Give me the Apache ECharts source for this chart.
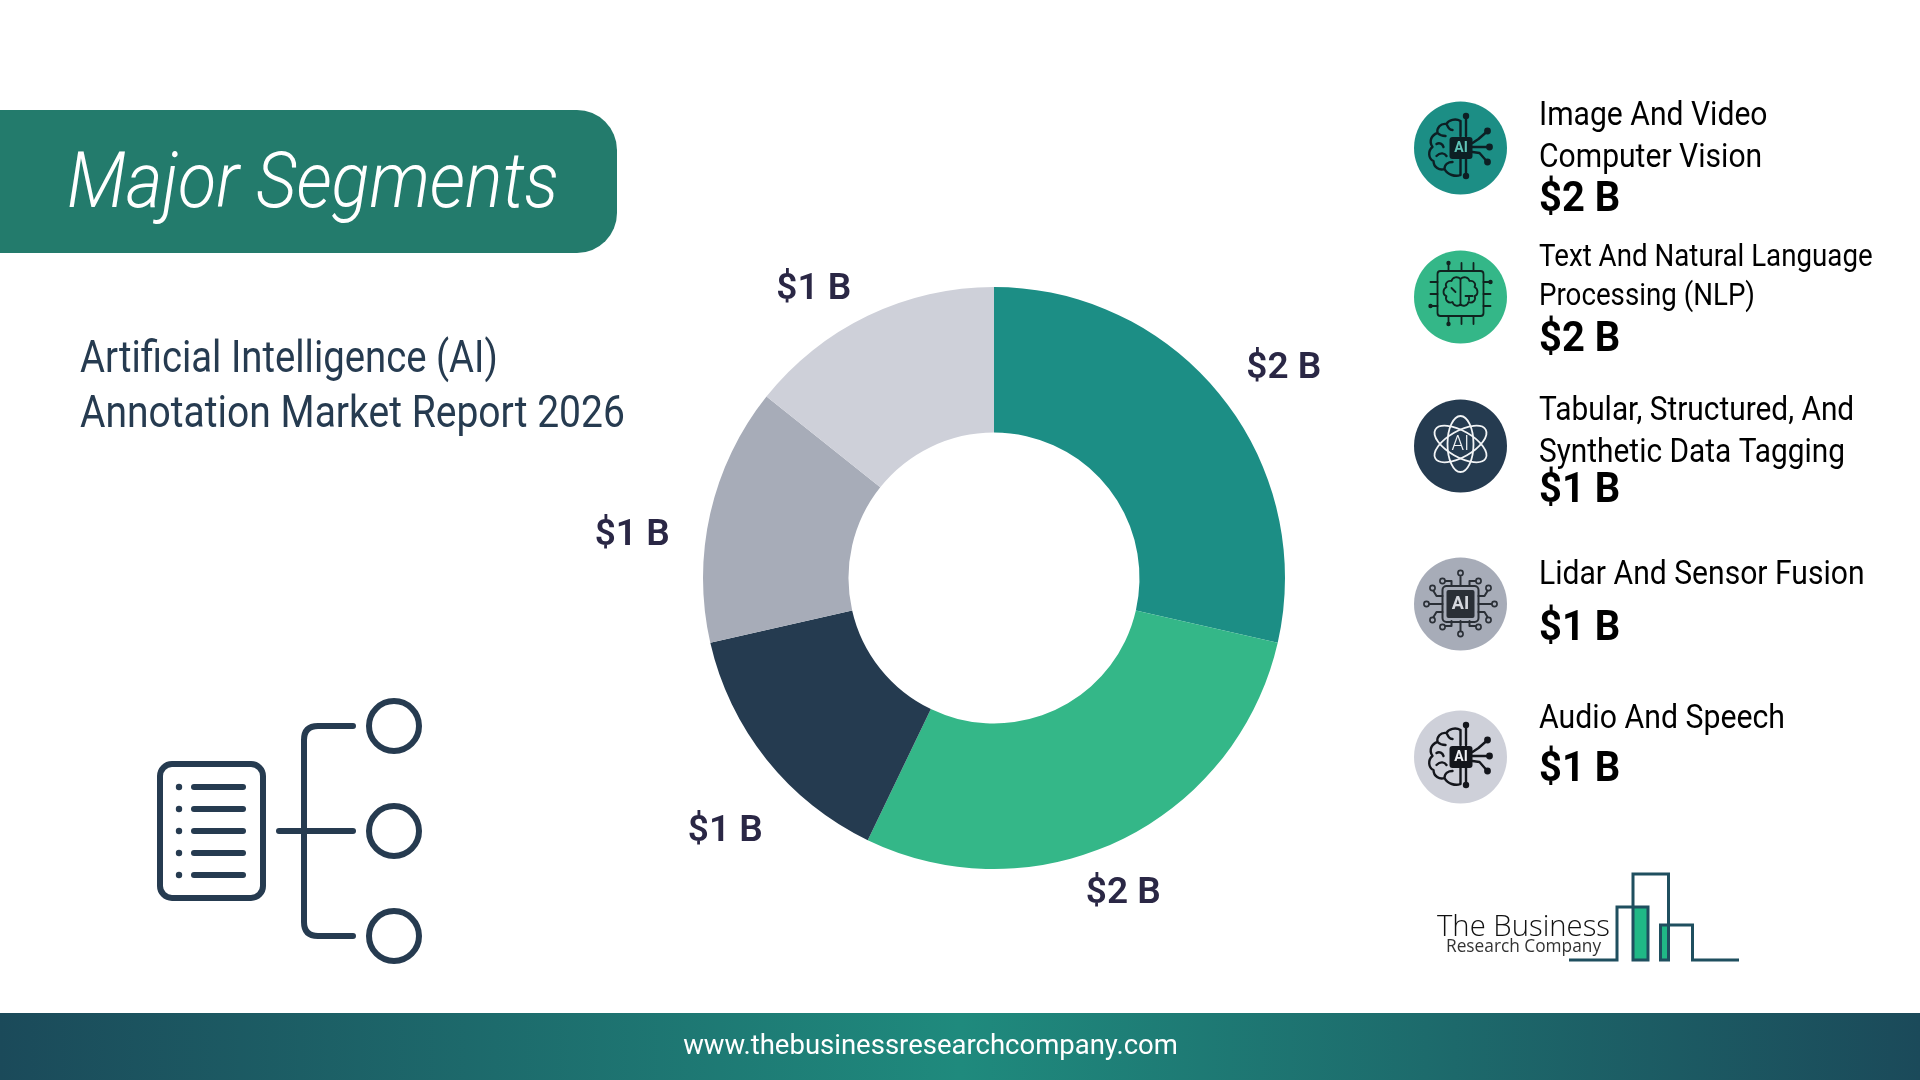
<!DOCTYPE html>
<html>
<head>
<meta charset="utf-8">
<title>Major Segments</title>
<script src="https://cdn.jsdelivr.net/npm/echarts@6/dist/echarts.min.js"></script>
<style>
  html, body { margin: 0; padding: 0; background: #fff; }
  #chart { width: 1920px; height: 1080px; }
</style>
</head>
<body>
<div id="chart"></div>
<script>
// data
const titleText = 'Major Segments';
const subtitleLines = ['Artificial Intelligence (AI)', 'Annotation Market Report 2026'];
const footerText = 'www.thebusinessresearchcompany.com';
const segmentLines = [
  ['Image And Video', 'Computer Vision'],
  ['Text And Natural Language', 'Processing (NLP)'],
  ['Tabular, Structured, And', 'Synthetic Data Tagging'],
  ['Lidar And Sensor Fusion'],
  ['Audio And Speech']
];
const segmentValues = [2, 2, 1, 1, 1];
const valueLabels = ['$2 B', '$2 B', '$1 B', '$1 B', '$1 B'];
const segmentColors = ['#1c8e85', '#34b788', '#253b50', '#a7acb8', '#ced0d9'];

// label offsets from the default outside position
const labelNudge = [[8, -18], [-46, 40], [13, 63], [-21, 26], [-5, -13]];

const DARK = '#263b50';
const LOGO = '#1f4f5f';

function txt(x, y, text, size, opts) {
  opts = opts || {};
  return {
    type: 'text', x: x, y: y, scaleX: opts.sx || 1, silent: true, z: opts.z || 5,
    style: {
      x: 0, y: 0, text: text, fill: opts.color || '#000',
      font: (opts.style || 'normal') + ' ' + (opts.weight || 400) + ' ' + size + 'px ' + (opts.family || 'Roboto'),
      align: opts.align || 'left', verticalAlign: 'middle'
    }
  };
}

// the graphic component has no 'path' type, so each svg path gets its own registered shape
let pathCount = 0;
function pathType(d) {
  const name = 'svgPath' + (pathCount++);
  echarts.graphic.registerShape(name, echarts.graphic.extendPath(d, {}));
  return name;
}

function stroke(d, color, w) {
  return {
    type: pathType(d), silent: true, z: 4,
    style: { fill: null, stroke: color, lineWidth: w, lineCap: 'round', lineJoin: 'round' }
  };
}

function dot(x, y, r, color) {
  return { type: 'circle', silent: true, z: 4, shape: { cx: x, cy: y, r: r }, style: { fill: color } };
}

function ring(x, y, r, color, w) {
  return { type: 'circle', silent: true, z: 4, shape: { cx: x, cy: y, r: r }, style: { fill: null, stroke: color, lineWidth: w } };
}

// half brain with chip and three outputs
function brainIcon(dy, ink, chipText) {
  const brain = 'M0,-27 C-5,-30 -12,-28 -14,-24 C-20,-25 -24,-20 -23,-15 C-29,-13 -32,-7 -28,-1 ' +
    'C-33,3 -32,11 -27,13 C-27,19 -21,23 -16,21 C-13,27 -5,29 0,27 ' +
    'M0,-27 L0,-12 M0,11 L0,27 M-14,-24 C-12,-20 -11,-18 -8,-18 M-23,-15 C-20,-12 -18,-12 -15,-12 ' +
    'M-24,-4 C-21,-6 -18,-4 -17,-1 M-24,8 C-20,4 -16,5 -14,8 M-16,21 C-16,16 -12,14 -8,14';
  const outs = 'M5.5,-32 L5.5,-12 M5.5,11 L5.5,28 M12,-5 L18,-9 L26,-16 M12,-1 L28,-1 M12,4 L19,5 L26,13';
  return [
    stroke(brain, ink, 2.4),
    stroke(outs, ink, 2.4),
    dot(5.5, -32, 3.2, ink), dot(5.5, 28, 3.2, ink),
    dot(27, -17, 3.4, ink), dot(29, -1, 3.4, ink), dot(27, 14, 3.4, ink),
    { type: 'rect', silent: true, z: 4, shape: { x: -11, y: -11 + dy, width: 23, height: 22, r: 3 }, style: { fill: ink } },
    txt(0.5, 0 + dy, 'AI', 14, { color: chipText, weight: 700, align: 'center', z: 6 })
  ];
}

function nlpIcon(ink) {
  const chip = 'M-20,-26 L20,-26 Q23,-26 23,-23 L23,16 Q23,19 20,19 L-20,19 Q-23,19 -23,16 L-23,-23 Q-23,-26 -20,-26 Z';
  const pins = 'M-12,-26 L-12,-34 M1,-26 L1,-34 M13,-26 L13,-34 M-12,19 L-12,27 M1,19 L1,27 M13,19 L13,27 ' +
    'M-23,-15 L-30,-15 M-23,-3 L-30,-3 M-23,9 L-30,9 M23,-15 L30,-15 M23,-3 L30,-3 M23,9 L30,9';
  const lobes = 'M0,-18 C-3,-21 -8,-20 -9,-16 C-13,-17 -16,-13 -14,-10 C-18,-8 -18,-2 -14,-1 C-16,3 -12,7 -8,5 ' +
    'C-7,9 -2,10 0,7 C2,10 7,9 8,5 C12,7 16,3 14,-1 C18,-2 18,-8 14,-10 C16,-13 13,-17 9,-16 C8,-20 3,-21 0,-18 Z ' +
    'M0,-18 L0,7 M-9,-9 L-5,-5 M5,-1 L12,-1 M8.5,-1 L8.5,3';
  return [
    stroke(chip, ink, 1.8), stroke(pins, ink, 1.8), stroke(lobes, ink, 1.8),
    dot(-12, -34, 2.2, ink), dot(-12, 27, 2.2, ink), dot(30, -15, 2.2, ink), dot(-30, 9, 2.2, ink)
  ];
}

function atomIcon(ink) {
  const orbit = function (rot, rx) {
    return {
      type: 'ellipse', silent: true, z: 4, x: 0, y: -2, rotation: rot,
      shape: { cx: 0, cy: 0, rx: rx, ry: 13 },
      style: { fill: null, stroke: ink, lineWidth: 1.8 }
    };
  };
  return [
    orbit(0.52, 29), orbit(-0.52, 29), orbit(Math.PI / 2, 28),
    txt(0, -1, 'AI', 20, { color: ink, weight: 300, align: 'center', z: 6 })
  ];
}

function circuitIcon(ink, chipText) {
  const traces = 'M0,-18 L0,-27 M0,17 L0,27 M-18,0 L-31,0 M18,0 L31,0 ' +
    'M-9,-18 L-9,-23 L-15,-23 M9,-18 L9,-23 L15,-23 M-9,17 L-9,22 L-15,22 M9,17 L9,22 L15,22 ' +
    'M-18,-8 L-24,-8 L-27,-13 M18,-8 L24,-8 L27,-13 M-18,8 L-24,8 L-27,13 M18,8 L24,8 L27,13';
  const ends = [[0, -31], [0, 30], [-34, 0], [34, 0], [-18, -23], [18, -23], [-18, 23], [18, 23], [-28, -16], [28, -16], [-28, 16], [28, 16]];
  const items = [
    stroke(traces, ink, 2),
    { type: 'rect', silent: true, z: 4, shape: { x: -18, y: -18, width: 36, height: 36, r: 4 }, style: { fill: null, stroke: ink, lineWidth: 2 } },
    { type: 'rect', silent: true, z: 4, shape: { x: -14, y: -14, width: 28, height: 28, r: 2 }, style: { fill: ink } },
    txt(0, 0, 'AI', 18, { color: chipText, weight: 700, align: 'center', z: 6 })
  ];
  ends.forEach(function (p) { items.push(ring(p[0], p[1], 2.6, ink, 1.6)); });
  return items;
}

// left hand document and branches
function docIcon() {
  const items = [];
  items.push({ type: 'rect', silent: true, z: 4, shape: { x: 160, y: 764, width: 103, height: 134, r: 12 }, style: { fill: null, stroke: DARK, lineWidth: 6 } });
  [787, 809, 831, 853, 875].forEach(function (y) {
    items.push(dot(179, y, 3.2, DARK));
    items.push(stroke('M194,' + y + ' L243,' + y, DARK, 6));
  });
  items.push(stroke('M279,831 L353,831', DARK, 6));
  items.push(stroke('M353,726 L318,726 Q304,726 304,740 L304,922 Q304,936 318,936 L353,936', DARK, 6));
  [726, 831, 936].forEach(function (y) { items.push(ring(394, y, 25, DARK, 6)); });
  return items;
}

function logo() {
  const line = 'M1569,960 L1617,960 L1617,907 L1648,907 L1648,960 L1633,960 L1633,874 L1668.5,874 L1668.5,960 ' +
    'L1660.5,960 L1660.5,925 L1692.5,925 L1692.5,960 L1739,960';
  return [
    { type: 'rect', silent: true, z: 3, shape: { x: 1633, y: 907, width: 15, height: 53 }, style: { fill: '#20b886' } },
    { type: 'rect', silent: true, z: 3, shape: { x: 1660.5, y: 925, width: 8, height: 35 }, style: { fill: '#20b886' } },
    { type: pathType(line), silent: true, z: 4, style: { fill: null, stroke: LOGO, lineWidth: 3, lineJoin: 'miter' } },
    txt(1437, 928, 'The Business', 29.3, { family: 'Open Sans', weight: 300, color: '#111' }),
    txt(1446, 947, 'Research Company', 17.3, { family: 'Open Sans', color: '#333' })
  ];
}

// right hand list
const rowCenters = [148, 297, 446, 604, 757];
const rowLineYs = [[116.5, 158.5], [258, 297], [411.5, 453.5], [575.5], [719.5]];
const rowValueYs = [200, 340, 491, 629, 770];
const rowFont = [[34, 0.885], [31, 0.894], [34, 0.878], [34, 0.885], [34, 0.89]];

function legend() {
  const items = [];
  const icons = [
    brainIcon(0, '#0d1f24', '#5fc4b8'),
    nlpIcon('#10231f'),
    atomIcon('#f2f4f6'),
    circuitIcon('#2a2f36', '#d5d7dd'),
    brainIcon(0, '#14161c', '#f0f0f4')
  ];
  segmentLines.forEach(function (lines, i) {
    items.push({ type: 'circle', silent: true, z: 2, shape: { cx: 1460.5, cy: rowCenters[i], r: 46.5 }, style: { fill: segmentColors[i] } });
    items.push({ type: 'group', x: 1460.5, y: rowCenters[i], silent: true, children: icons[i] });
    lines.forEach(function (l, j) {
      items.push(txt(1539, rowLineYs[i][j], l, rowFont[i][0], { weight: 400, sx: rowFont[i][1] }));
    });
    items.push(txt(1539, rowValueYs[i], valueLabels[i], 42, { weight: 700, sx: 0.95 }));
  });
  return items;
}

const chart = echarts.init(document.getElementById('chart'), null, { renderer: 'canvas' });

const option = {
  animation: false,
  backgroundColor: '#ffffff',
  textStyle: { fontFamily: 'Roboto' },
  series: [{
    type: 'pie',
    center: [994, 578],
    radius: [145.5, 291],
    startAngle: 90,
    clockwise: true,
    avoidLabelOverlap: false,
    silent: true,
    label: {
      show: true, position: 'outside', color: '#2a2745',
      fontFamily: 'Roboto', fontWeight: 600, fontSize: 37,
      formatter: function (p) { return valueLabels[p.dataIndex]; }
    },
    labelLine: { show: false, length: 15, length2: 0 },
    labelLayout: function (p) {
      return { dx: labelNudge[p.dataIndex][0], dy: labelNudge[p.dataIndex][1] };
    },
    data: segmentValues.map(function (v, i) {
      return { value: v, name: segmentLines[i].join(' '), itemStyle: { color: segmentColors[i] } };
    })
  }],
  graphic: [
    {
      type: 'rect', silent: true, z: 1,
      shape: { x: 0, y: 110, width: 617, height: 143, r: [0, 40, 40, 0] },
      style: { fill: '#237b6c' }
    },
    txt(67, 187, titleText, 78, { color: '#fff', style: 'italic', weight: 300, sx: 0.9 }),
    txt(80, 361, subtitleLines[0], 44, { color: DARK, weight: 400, sx: 0.87 }),
    txt(80, 416, subtitleLines[1], 44, { color: DARK, weight: 400, sx: 0.887 }),
    { type: 'group', silent: true, children: docIcon() },
    { type: 'group', silent: true, children: legend() },
    { type: 'group', silent: true, children: logo() },
    {
      type: 'rect', silent: true, z: 1,
      shape: { x: 0, y: 1013, width: 1920, height: 67 },
      style: {
        fill: new echarts.graphic.LinearGradient(0, 0, 1, 0, [
          { offset: 0, color: '#1b4a5a' },
          { offset: 0.5, color: '#1f8a7d' },
          { offset: 1, color: '#1b4a5a' }
        ])
      }
    },
    txt(930.5, 1047, footerText, 27.5, { color: '#fff', align: 'center' })
  ]
};

chart.setOption(option);
window.addEventListener('resize', function () { chart.resize(); });
</script>
</body>
</html>
